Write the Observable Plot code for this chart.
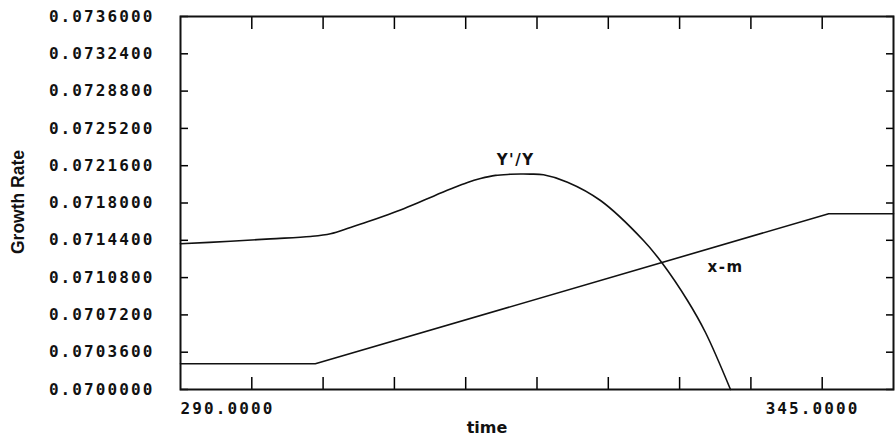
<!DOCTYPE html>
<html><head><meta charset="utf-8">
<script src="https://cdn.jsdelivr.net/npm/d3@7"></script>
<script src="https://cdn.jsdelivr.net/npm/@observablehq/plot@0.6"></script>
<style>
body{margin:0;background:#fff;}
g[aria-label="y-axis tick label"] text, .mono text {letter-spacing:2.1px;}
.lbl text {letter-spacing:1.5px;}
</style></head><body><div id="chart"></div>
<script>
// Series Y'/Y
const yyTime  = [290.000, 293.857, 296.942, 300.028, 301.571, 303.113, 304.425, 305.659, 306.970, 308.282, 309.516, 310.827, 312.139, 313.141, 314.298, 315.455, 316.227, 316.998, 318.001, 319.852, 322.397, 325.714, 327.180, 329.108, 330.497, 332.425];
const yyValue = [0.071406, 0.071431, 0.071454, 0.071477, 0.071503, 0.071564, 0.071618, 0.071672, 0.071733, 0.071800, 0.071866, 0.071934, 0.071998, 0.072036, 0.072067, 0.072077, 0.072080, 0.072079, 0.072072, 0.072001, 0.071824, 0.071438, 0.071216, 0.070859, 0.070550, 0.070000];
// Series x-m
const xmTime  = [290, 300.4, 340, 345];
const xmValue = [0.070248, 0.070248, 0.071696, 0.071696];
// Ticks and labels
const yTicks = [0.07, 0.07036, 0.07072, 0.07108, 0.07144, 0.0718, 0.07216, 0.07252, 0.07288, 0.07324, 0.0736];
const xTicks = [295.5, 301, 306.5, 312, 317.5, 323, 328.5, 334, 339.5];
const xStart = 290, xEnd = 345;
const seriesNames = ["Y'/Y", "x-m"];
const labelTime = [315.85, 332.05];
const labelValue = [0.072210, 0.071177];

const yy = yyTime.map((t, i) => ({t, v: yyValue[i]}));
const xm = xmTime.map((t, i) => ({t, v: xmValue[i]}));
const labels = seriesNames.map((name, i) => ({name, t: labelTime[i], v: labelValue[i]}));

const plot = Plot.plot({
  width: 895, height: 441,
  marginTop: 16, marginBottom: 52, marginLeft: 180, marginRight: 2,
  style: {background: "#fff", color: "#000"},
  x: {domain: [xStart, xEnd]},
  y: {domain: [yTicks[0], yTicks[yTicks.length - 1]]},
  marks: [
    Plot.axisY(yTicks, {anchor: "left", tickSize: 0, tickPadding: 26, tickFormat: d => d.toFixed(7), fontFamily: "DejaVu Sans Mono", fontWeight: "bold", fontSize: 16, fill: "#111", label: null}),
    Plot.axisY(yTicks, {anchor: "left", tickSize: 8, dx: 8, fill: "none", label: null, strokeWidth: 1.5}),
    Plot.axisY(yTicks, {anchor: "right", tickSize: 8, dx: -8, fill: "none", label: null, strokeWidth: 1.5}),
    Plot.axisX(xTicks, {anchor: "bottom", tickSize: 12, dy: -12, fill: "none", label: null, strokeWidth: 1.5}),
    Plot.axisX(xTicks, {anchor: "top", tickSize: 12, dy: 12, fill: "none", label: null, strokeWidth: 1.5}),
    Plot.frame({stroke: "#111", strokeWidth: 2}),
    Plot.line(xm, {x: "t", y: "v", stroke: "#111", strokeWidth: 1.6}),
    Plot.line(yy, {x: "t", y: "v", stroke: "#111", strokeWidth: 1.6, curve: "catmull-rom"}),
    Plot.text(labels, {x: "t", y: "v", text: "name", fontFamily: "DejaVu Sans", fontWeight: "bold", fontSize: 15, fill: "#111", className: "lbl"}),
    Plot.text([xStart], {x: d => d, frameAnchor: "bottom", dy: 19, textAnchor: "start", lineAnchor: "middle", text: d => d.toFixed(4), fontFamily: "DejaVu Sans Mono", fontWeight: "bold", fontSize: 16, fill: "#111", className: "mono"}),
    Plot.text([xEnd], {x: d => d, frameAnchor: "bottom", dy: 19, textAnchor: "end", lineAnchor: "middle", dx: -34, text: d => d.toFixed(4), fontFamily: "DejaVu Sans Mono", fontWeight: "bold", fontSize: 16, fill: "#111", className: "mono"}),
    Plot.text(["time"], {frameAnchor: "bottom", dx: -50, dy: 38, textAnchor: "middle", lineAnchor: "middle", fontFamily: "DejaVu Sans", fontWeight: "bold", fontSize: 16, fill: "#111"}),
    Plot.text(["Growth Rate"], {frameAnchor: "left", dx: -162, dy: -1, rotate: -90, textAnchor: "middle", lineAnchor: "middle", fontFamily: "Liberation Sans Narrow, Liberation Sans", fontWeight: "bold", fontSize: 17.5, fill: "#111"})
  ]
});
document.getElementById("chart").appendChild(plot);
</script></body></html>
